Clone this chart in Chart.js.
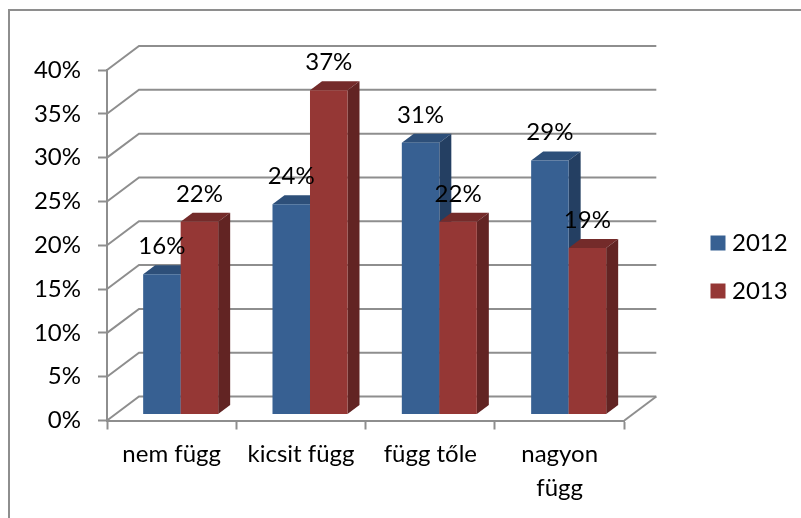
<!DOCTYPE html>
<html>
<head>
<meta charset="utf-8">
<style>
  html, body { margin: 0; padding: 0; background: #fff; }
  canvas { display: block; }
</style>
<script src="https://cdn.jsdelivr.net/npm/chart.js@4"></script>
</head>
<body>
<canvas id="chart" width="801" height="518"></canvas>
<script>
// ----- Data -----
const categories = ['nem függ', 'kicsit függ', 'függ tőle', ['nagyon', 'függ']];
const series2012 = [16, 24, 31, 29];
const series2013 = [22, 37, 22, 19];
const yTicks = [0, 5, 10, 15, 20, 25, 30, 35, 40];

// ----- Look -----
const FONT = 'Lato, "Open Sans", sans-serif';
const FONT_SIZE = 24;
const AXIS = '#8e8e8e';
const WALL = { dx: 32, dy: -24 };      // front plane to back wall
const BAR_SHIFT = { dx: 9, dy: -6 };   // front plane to bar fronts
const DEPTH = { dx: 12, dy: -9 };      // bar depth
const FACES = [
  { top: '#2d4f79', side: '#243f62' },
  { top: '#742b2a', side: '#622423' }
];

function face(ctx, pts, color) {
  ctx.fillStyle = color;
  ctx.beginPath();
  pts.forEach((p, i) => (i ? ctx.lineTo(p[0], p[1]) : ctx.moveTo(p[0], p[1])));
  ctx.closePath();
  ctx.fill();
}

// ----- 3D look on top of the normal scales and bar elements -----
const scene = {
  id: 'scene',
  beforeDraw(chart) {
    const ctx = chart.ctx;
    ctx.save();
    ctx.strokeStyle = AXIS;
    ctx.lineWidth = 2;
    ctx.beginPath();
    ctx.moveTo(801, 10);
    ctx.lineTo(9, 10);
    ctx.lineTo(9, 518);
    ctx.stroke();
    ctx.restore();
  },
  afterLayout(chart) {
    // legend sits higher and further left than the default box puts it
    const lg = chart.legend;
    lg.left = 692;
    lg.right = 788;
    lg.top -= 27;
    lg.bottom -= 27;
    lg.adjustHitBoxes();
  },
  beforeDatasetsDraw(chart) {
    const ctx = chart.ctx;
    const y = chart.scales.y;
    const { left, right, bottom } = chart.chartArea;

    // walls and floor
    ctx.save();
    ctx.strokeStyle = AXIS;
    ctx.lineWidth = 2;
    yTicks.forEach(v => {
      const py = y.getPixelForValue(v);
      ctx.beginPath();
      ctx.moveTo(left, py);
      ctx.lineTo(left + WALL.dx, py + WALL.dy);
      ctx.lineTo(right + WALL.dx, py + WALL.dy);
      ctx.stroke();
    });
    ctx.beginPath();
    ctx.moveTo(right, bottom);
    ctx.lineTo(right + WALL.dx, bottom + WALL.dy);
    ctx.stroke();
    ctx.restore();

    // bars: category by category so each front hides the side next to it
    ctx.save();
    ctx.translate(BAR_SHIFT.dx, BAR_SHIFT.dy);
    categories.forEach((_, i) => {
      [0, 1].forEach(d => {
        const bar = chart.getDatasetMeta(d).data[i];
        const l = bar.x - bar.width / 2;
        const r = bar.x + bar.width / 2;
        const t = bar.y;
        const b = bar.base;
        face(ctx, [[l, t], [r, t], [r + DEPTH.dx, t + DEPTH.dy], [l + DEPTH.dx, t + DEPTH.dy]], FACES[d].top);
        face(ctx, [[r, t], [r + DEPTH.dx, t + DEPTH.dy], [r + DEPTH.dx, b + DEPTH.dy], [r, b]], FACES[d].side);
        bar.draw(ctx);
      });
    });
    ctx.restore();
    return false; // already drawn, in the right stacking order
  },
  afterDraw(chart) {
    const ctx = chart.ctx;
    ctx.save();
    ctx.font = FONT_SIZE + 'px ' + FONT;
    ctx.fillStyle = '#000';
    ctx.textAlign = 'center';
    ctx.textBaseline = 'alphabetic';
    chart.data.datasets.forEach((ds, d) => {
      chart.getDatasetMeta(d).data.forEach((bar, i) => {
        ctx.fillText(ds.data[i] + '%', bar.x + BAR_SHIFT.dx, bar.y + BAR_SHIFT.dy - 20);
      });
    });
    ctx.restore();
  }
};

new Chart(document.getElementById('chart'), {
  type: 'bar',
  data: {
    labels: categories,
    datasets: [
      { label: '2012', data: series2012, backgroundColor: '#376092' },
      { label: '2013', data: series2013, backgroundColor: '#953735' }
    ]
  },
  options: {
    responsive: false,
    animation: false,
    layout: { padding: { top: 70, right: 71, left: 0, bottom: 0 } },
    datasets: { bar: { barPercentage: 1, categoryPercentage: 0.58 } },
    plugins: {
      tooltip: { enabled: false },
      legend: {
        position: 'right',
        labels: {
          color: '#000',
          font: { family: FONT, size: FONT_SIZE },
          boxWidth: 4,
          boxHeight: 4,
          padding: 24,
          // thick outline makes a 15px swatch with Excel's narrow gap to the text
          generateLabels: c => Chart.defaults.plugins.legend.labels.generateLabels(c)
            .map(l => ({ ...l, lineWidth: 11, strokeStyle: l.fillStyle }))
        }
      }
    },
    scales: {
      x: {
        afterFit(s) { s.height = 97.5; },
        grid: { drawOnChartArea: false, offset: true, tickLength: 9, tickColor: AXIS, tickWidth: 2 },
        border: { color: AXIS, width: 2 },
        ticks: {
          color: '#000',
          padding: 8,
          maxRotation: 0,
          autoSkip: false,
          font: { family: FONT, size: FONT_SIZE, lineHeight: 1.4 }
        }
      },
      y: {
        min: 0,
        max: 40,
        afterFit(s) { s.width = 107; },
        afterBuildTicks(s) { s.ticks = yTicks.map(value => ({ value })); },
        grid: { drawOnChartArea: false, tickLength: 9, tickColor: AXIS, tickWidth: 2 },
        border: { color: AXIS, width: 2 },
        ticks: {
          color: '#000',
          padding: 17,
          callback: v => v + '%',
          font: { family: FONT, size: FONT_SIZE }
        }
      }
    }
  },
  plugins: [scene]
});
</script>
</body>
</html>
